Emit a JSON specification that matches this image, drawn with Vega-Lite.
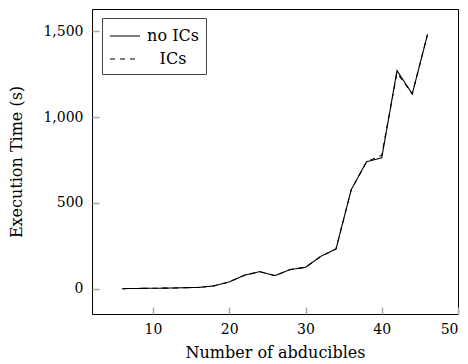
{
  "$schema": "https://vega.github.io/schema/vega-lite/v6.json",
  "width": 366,
  "height": 305,
  "autosize": "none",
  "padding": {"left": 92, "top": 9, "right": 10, "bottom": 50},
  "config": {
    "view": {"stroke": "black", "strokeWidth": 1},
    "axis": {
      "labelFont": "DejaVu Serif",
      "titleFont": "DejaVu Serif",
      "labelFontSize": 14,
      "titleFontSize": 16,
      "labelColor": "black",
      "titleColor": "black",
      "titleFontWeight": "normal",
      "grid": false,
      "domain": false,
      "tickColor": "#a8a8a8",
      "tickSize": 7,
      "tickWidth": 1.5
    }
  },
  "data": {
    "values": [
      {"n": 6, "t": 0, "s": "no ICs"},
      {"n": 8, "t": 1, "s": "no ICs"},
      {"n": 10, "t": 2, "s": "no ICs"},
      {"n": 12, "t": 3, "s": "no ICs"},
      {"n": 14, "t": 5, "s": "no ICs"},
      {"n": 16, "t": 7, "s": "no ICs"},
      {"n": 18, "t": 16, "s": "no ICs"},
      {"n": 20, "t": 39, "s": "no ICs"},
      {"n": 22, "t": 78, "s": "no ICs"},
      {"n": 24, "t": 99, "s": "no ICs"},
      {"n": 26, "t": 76, "s": "no ICs"},
      {"n": 28, "t": 111, "s": "no ICs"},
      {"n": 30, "t": 124, "s": "no ICs"},
      {"n": 32, "t": 188, "s": "no ICs"},
      {"n": 34, "t": 231, "s": "no ICs"},
      {"n": 36, "t": 577, "s": "no ICs"},
      {"n": 38, "t": 739, "s": "no ICs"},
      {"n": 40, "t": 762, "s": "no ICs"},
      {"n": 42, "t": 1271, "s": "no ICs"},
      {"n": 44, "t": 1135, "s": "no ICs"},
      {"n": 46, "t": 1481, "s": "no ICs"},
      {"n": 6, "t": 0, "s": "ICs"},
      {"n": 8, "t": 1, "s": "ICs"},
      {"n": 10, "t": 2, "s": "ICs"},
      {"n": 12, "t": 3, "s": "ICs"},
      {"n": 14, "t": 5, "s": "ICs"},
      {"n": 16, "t": 7, "s": "ICs"},
      {"n": 18, "t": 16, "s": "ICs"},
      {"n": 20, "t": 39, "s": "ICs"},
      {"n": 22, "t": 78, "s": "ICs"},
      {"n": 24, "t": 99, "s": "ICs"},
      {"n": 26, "t": 76, "s": "ICs"},
      {"n": 28, "t": 111, "s": "ICs"},
      {"n": 30, "t": 124, "s": "ICs"},
      {"n": 32, "t": 188, "s": "ICs"},
      {"n": 34, "t": 231, "s": "ICs"},
      {"n": 36, "t": 577, "s": "ICs"},
      {"n": 38, "t": 739, "s": "ICs"},
      {"n": 40, "t": 778, "s": "ICs"},
      {"n": 42, "t": 1258, "s": "ICs"},
      {"n": 44, "t": 1135, "s": "ICs"},
      {"n": 46, "t": 1481, "s": "ICs"}
    ]
  },
  "mark": {"type": "line", "color": "black", "strokeWidth": 1.1},
  "encoding": {
    "x": {"field": "n", "type": "quantitative", "scale": {"domain": [2, 50], "nice": false, "zero": false},
          "axis": {"orient": "bottom", "title": "Number of abducibles", "values": [10, 20, 30, 40, 50], "labelPadding": 8, "titlePadding": 8, "offset": -7}},
    "y": {"field": "t", "type": "quantitative", "scale": {"domain": [-148, 1630], "nice": false, "zero": false},
          "axis": {"orient": "left", "title": "Execution Time (s)", "values": [0, 500, 1000, 1500], "format": ",d", "labelPadding": 9, "titlePadding": 18, "offset": -7}},
    "strokeDash": {"field": "s", "type": "nominal",
          "scale": {"domain": ["no ICs", "ICs"], "range": [[1, 0], [5, 5]]},
          "legend": {
            "title": null,
            "orient": "none",
            "legendX": 10,
            "legendY": 9,
            "symbolType": "M-1,0H2",
            "symbolStrokeColor": "black",
            "symbolStrokeWidth": 1.1,
            "symbolSize": 400,
            "rowPadding": 4,
            "labelFont": "DejaVu Serif",
            "labelFontSize": 16,
            "labelColor": "black",
            "labelAlign": "center",
            "labelOffset": 42,
            "strokeColor": "#444444",
            "padding": 7,
            "fillColor": "white"
          }}
  }
}
